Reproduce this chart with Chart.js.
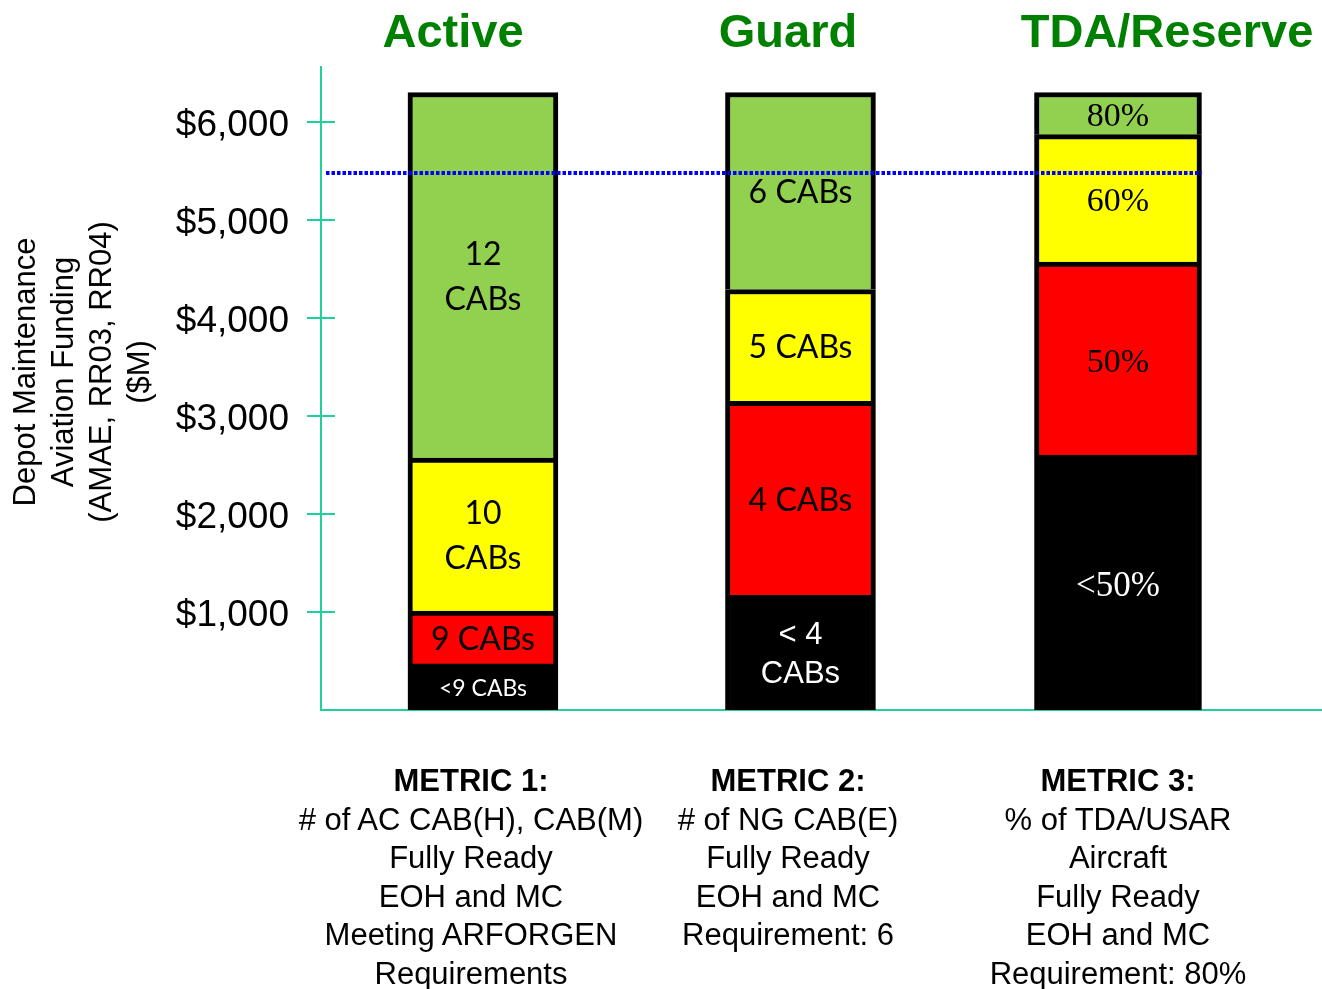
<!DOCTYPE html>
<html>
<head>
<meta charset="utf-8">
<script src="https://cdn.jsdelivr.net/npm/chart.js@4.4.1/dist/chart.umd.min.js"></script>
<style>
  body { margin: 0; background: #fff; }
  #wrap { position: relative; width: 1322px; height: 989px; overflow: hidden; }
  #chart { position: absolute; left: 0; top: 0; }
  .hdr { position: absolute; top: 3px; transform: translateX(-50%); font: bold 47px "Liberation Sans", Arial, sans-serif; line-height: 56px; color: #008000; white-space: nowrap; }
  .metric { position: absolute; top: 762px; transform: translateX(-50%); font: 31px "Liberation Sans", Arial, sans-serif; line-height: 38.5px; text-align: center; white-space: nowrap; color: #000; }
  #ytitle { position: absolute; width: 360px; height: 152px; left: -98px; top: 296px; transform: rotate(-90deg); font: 31px "Liberation Sans", Arial, sans-serif; line-height: 38px; text-align: center; color: #000; white-space: nowrap; }
</style>
</head>
<body>
<div id="wrap">
  <canvas id="chart" width="1322" height="989"></canvas>
  <div id="ytitle"></div>
</div>
<script>
// donnees ($M, hauteur de chaque tranche)
const categories = ['Active', 'Guard', 'TDA/Reserve'];
const blackVals  = [470, 1170, 2600];
const redVals    = [540, 1980, 1970];
const yellowVals = [1560, 1140, 1300];
const greenVals  = [3730, 2010, 430];

const blackLabels  = ['<9 CABs', '< 4\nCABs', '<50%'];
const redLabels    = ['9 CABs', '4 CABs', '50%'];
const yellowLabels = ['10\nCABs', '5 CABs', '60%'];
const greenLabels  = ['12\nCABs', '6 CABs', '80%'];

const targetLevel = 5480;
const yTickValues = [1000, 2000, 3000, 4000, 5000, 6000];

const yTitle = ['Depot Maintenance', 'Aviation Funding', '(AMAE, RR03, RR04)', '($M)'];
const metricTitles = ['METRIC 1:', 'METRIC 2:', 'METRIC 3:'];
const metricLines = [
  ['# of AC CAB(H), CAB(M)', 'Fully Ready', 'EOH and MC', 'Meeting ARFORGEN', 'Requirements'],
  ['# of NG CAB(E)', 'Fully Ready', 'EOH and MC', 'Requirement: 6'],
  ['% of TDA/USAR', 'Aircraft', 'Fully Ready', 'EOH and MC', 'Requirement: 80%']
];

// styles
const axisColor = '#1fcf9c';
const headerX = [453, 788, 1167];
const metricX = [471, 788, 1118];
const labelFonts = [
  { font: '32px Lato', base: '23px Lato', lh: 45, dy: 2 },
  { font: '32px Lato', base: '31px "Liberation Sans"', lh: 39, dy: 2 },
  { font: '34px "Liberation Serif"', base: '35px "Liberation Serif"', lh: 40, dy: 4 }
];

const levels = [
  { vals: blackVals,  labels: blackLabels,  color: '#000000', text: '#ffffff' },
  { vals: redVals,    labels: redLabels,    color: '#ff0000', text: '#000000' },
  { vals: yellowVals, labels: yellowLabels, color: '#ffff00', text: '#000000' },
  { vals: greenVals,  labels: greenLabels,  color: '#92d050', text: '#000000' }
];
const barGroups = [
  { idx: [0, 1], width: 150 },
  { idx: [2], width: 167 }
];

const datasets = [];
barGroups.forEach(g => {
  levels.forEach((lv, li) => {
    datasets.push({
      label: categories[g.idx[0]] + ' ' + li,
      data: g.idx.map(i => ({ x: i + 1, y: lv.vals[i], cat: i, lvl: li })),
      backgroundColor: lv.color,
      borderColor: '#000000',
      borderWidth: { top: 5, left: 5, right: 5, bottom: 0 },
      barThickness: g.width
    });
  });
});

// textes hors du canvas
const wrap = document.getElementById('wrap');
categories.forEach((c, i) => {
  const h = document.createElement('div');
  h.className = 'hdr';
  h.style.left = headerX[i] + 'px';
  h.textContent = c;
  wrap.appendChild(h);

  const m = document.createElement('div');
  m.className = 'metric';
  m.style.left = metricX[i] + 'px';
  m.innerHTML = '<b>' + metricTitles[i] + '</b><br>' + metricLines[i].join('<br>');
  wrap.appendChild(m);
});
document.getElementById('ytitle').innerHTML = yTitle.join('<br>');

// petits traits qui traversent l'axe Y
const tickMarks = {
  id: 'tickMarks',
  afterDraw(chart) {
    const ctx = chart.ctx;
    const y = chart.scales.y;
    const left = chart.chartArea.left;
    ctx.save();
    ctx.strokeStyle = axisColor;
    ctx.lineWidth = 2;
    y.ticks.forEach(t => {
      const py = Math.round(y.getPixelForValue(t.value));
      ctx.beginPath();
      ctx.moveTo(left - 14, py);
      ctx.lineTo(left + 14, py);
      ctx.stroke();
    });
    ctx.restore();
  }
};

// etiquettes dans les tranches + ligne pointillee
const segLabels = {
  id: 'segLabels',
  afterDatasetsDraw(chart) {
    const ctx = chart.ctx;
    ctx.save();
    ctx.textAlign = 'center';
    ctx.textBaseline = 'middle';
    chart.data.datasets.forEach((ds, d) => {
      const meta = chart.getDatasetMeta(d);
      meta.data.forEach((el, j) => {
        const raw = ds.data[j];
        const lv = levels[raw.lvl];
        const st = labelFonts[raw.cat];
        const lines = lv.labels[raw.cat].split('\n');
        const cy = (el.y + el.base) / 2;
        ctx.font = raw.lvl === 0 ? st.base : st.font;
        ctx.fillStyle = lv.text;
        lines.forEach((txt, k) => {
          ctx.fillText(txt, el.x, cy + (k - (lines.length - 1) / 2) * st.lh + st.dy);
        });
      });
    });

    // ligne objectif
    const y = Math.round(chart.scales.y.getPixelForValue(targetLevel));
    const lastMeta = chart.getDatasetMeta(chart.data.datasets.length - 1);
    const lastBar = lastMeta.data[lastMeta.data.length - 1];
    ctx.strokeStyle = '#0000ff';
    ctx.lineWidth = 4;
    ctx.setLineDash([3.5, 2]);
    ctx.beginPath();
    ctx.moveTo(chart.chartArea.left + 5, y);
    ctx.lineTo(lastBar.x + lastBar.width / 2, y);
    ctx.stroke();
    ctx.restore();
  }
};

new Chart(document.getElementById('chart'), {
  type: 'bar',
  data: { datasets: datasets },
  options: {
    responsive: false,
    animation: false,
    events: [],
    layout: { padding: { top: 67, right: 0, bottom: 279, left: 0 } },
    plugins: {
      legend: { display: false },
      tooltip: { enabled: false }
    },
    scales: {
      x: {
        type: 'linear',
        offset: false,
        stacked: true,
        min: 0.49,
        max: 3.6425,
        ticks: { display: false },
        grid: { offset: false, drawOnChartArea: false, drawTicks: false },
        border: { color: axisColor, width: 2 },
        afterFit: s => { s.height = 0; }
      },
      y: {
        stacked: true,
        min: 0,
        max: 6560,
        afterBuildTicks: s => { s.ticks = yTickValues.map(v => ({ value: v })); },
        ticks: {
          padding: 32,
          labelOffset: 4,
          color: '#000000',
          font: { family: '"Liberation Sans", Arial, sans-serif', size: 37 },
          callback: v => '$' + v.toLocaleString('en-US')
        },
        grid: { drawOnChartArea: false, drawTicks: false },
        border: { color: axisColor, width: 2 },
        afterFit: s => { s.width = 321; }
      }
    }
  },
  plugins: [tickMarks, segLabels]
});
</script>
</body>
</html>
